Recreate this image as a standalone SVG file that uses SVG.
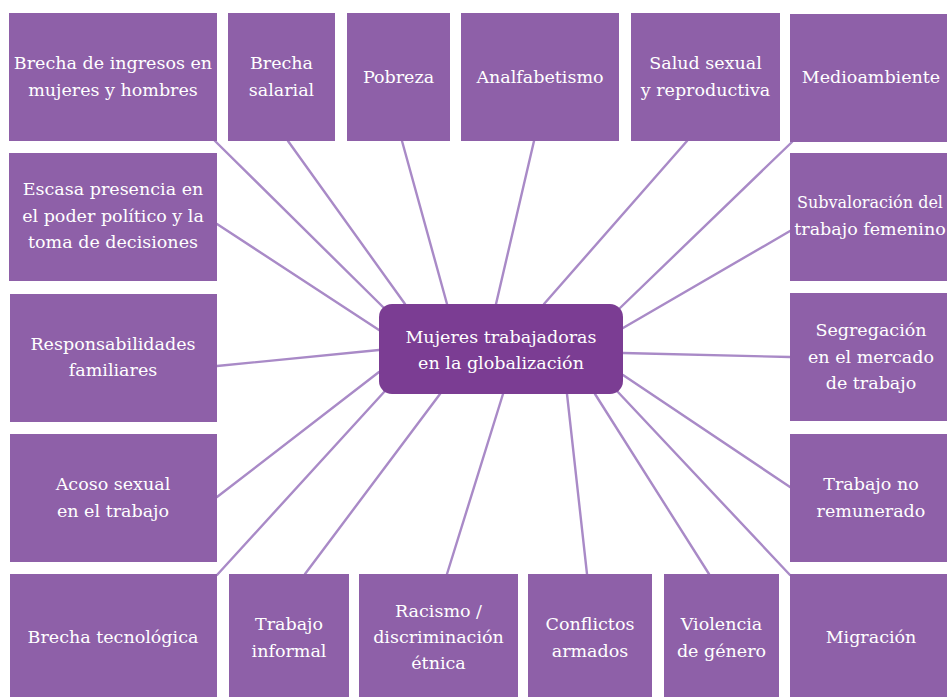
<svg xmlns="http://www.w3.org/2000/svg" width="947" height="697" viewBox="0 0 947 697">
<style>
.n{fill:#8E60A8}
.c{fill:#7B3D93}
.t{font-family:'DejaVu Serif','Liberation Serif',serif;font-size:17.5px;fill:#ffffff;text-anchor:middle}
#connectors line{stroke:#A98AC7;stroke-width:2.4;stroke-linecap:round}
</style>
<rect width="947" height="697" fill="#ffffff"/>
<g id="connectors">
<line x1="215" y1="141" x2="384" y2="308"/>
<line x1="288" y1="141" x2="405" y2="304"/>
<line x1="402" y1="141" x2="447" y2="304"/>
<line x1="534" y1="141" x2="496" y2="304"/>
<line x1="687" y1="141" x2="544" y2="304"/>
<line x1="792" y1="142" x2="620" y2="308"/>
<line x1="790" y1="231" x2="623" y2="328"/>
<line x1="790" y1="357" x2="623" y2="353"/>
<line x1="790" y1="487" x2="623" y2="375"/>
<line x1="790" y1="575" x2="617" y2="391"/>
<line x1="709" y1="574" x2="595" y2="394"/>
<line x1="587" y1="574" x2="567" y2="394"/>
<line x1="447" y1="574" x2="503" y2="394"/>
<line x1="305" y1="574" x2="440" y2="394"/>
<line x1="217" y1="575" x2="385" y2="391"/>
<line x1="217" y1="497" x2="379" y2="372"/>
<line x1="217" y1="366" x2="379" y2="350"/>
<line x1="217" y1="224" x2="379" y2="330"/>
</g>
<g id="n1"><rect class="n" x="9" y="13" width="208" height="128"/><text class="t"><tspan x="113" y="69">Brecha de ingresos en</tspan><tspan x="113" y="96">mujeres y hombres</tspan></text></g>
<g id="n2"><rect class="n" x="228" y="13" width="107" height="128"/><text class="t"><tspan x="281.5" y="69">Brecha</tspan><tspan x="281.5" y="96">salarial</tspan></text></g>
<g id="n3"><rect class="n" x="347" y="13" width="103" height="128"/><text class="t" x="398.5" y="83">Pobreza</text></g>
<g id="n4"><rect class="n" x="461" y="13" width="158" height="128"/><text class="t" x="540" y="83">Analfabetismo</text></g>
<g id="n5"><rect class="n" x="631" y="13" width="149" height="128"/><text class="t"><tspan x="705.5" y="69">Salud sexual</tspan><tspan x="705.5" y="96">y reproductiva</tspan></text></g>
<g id="n6"><rect class="n" x="790" y="14" width="170" height="128"/><text class="t" x="871" y="83">Medioambiente</text></g>
<g id="n7"><rect class="n" x="9" y="153" width="208" height="128"/><text class="t"><tspan x="113" y="195">Escasa presencia en</tspan><tspan x="113" y="222">el poder político y la</tspan><tspan x="113" y="248">toma de decisiones</tspan></text></g>
<g id="n8"><rect class="n" x="790" y="153" width="170" height="128"/><text class="t"><tspan x="870" y="208" font-size="16">Subvaloración del</tspan><tspan x="870" y="235">trabajo femenino</tspan></text></g>
<g id="n9"><rect class="n" x="10" y="294" width="207" height="128"/><text class="t"><tspan x="113" y="350">Responsabilidades</tspan><tspan x="113" y="376">familiares</tspan></text></g>
<g id="n10"><rect class="n" x="790" y="293" width="170" height="128"/><text class="t"><tspan x="871" y="336">Segregación</tspan><tspan x="871" y="363">en el mercado</tspan><tspan x="871" y="389">de trabajo</tspan></text></g>
<g id="n11"><rect class="n" x="10" y="434" width="207" height="128"/><text class="t"><tspan x="113" y="490">Acoso sexual</tspan><tspan x="113" y="517">en el trabajo</tspan></text></g>
<g id="n12"><rect class="n" x="790" y="434" width="170" height="128"/><text class="t"><tspan x="871" y="490">Trabajo no</tspan><tspan x="871" y="517">remunerado</tspan></text></g>
<g id="n13"><rect class="n" x="10" y="574" width="207" height="130"/><text class="t" x="113" y="643">Brecha tecnológica</text></g>
<g id="n14"><rect class="n" x="229" y="574" width="120" height="130"/><text class="t"><tspan x="289" y="630">Trabajo</tspan><tspan x="289" y="657">informal</tspan></text></g>
<g id="n15"><rect class="n" x="359" y="574" width="159" height="130"/><text class="t"><tspan x="438.5" y="617">Racismo /</tspan><tspan x="438.5" y="643">discriminación</tspan><tspan x="438.5" y="669">étnica</tspan></text></g>
<g id="n16"><rect class="n" x="528" y="574" width="124" height="130"/><text class="t"><tspan x="590" y="630">Conflictos</tspan><tspan x="590" y="657">armados</tspan></text></g>
<g id="n17"><rect class="n" x="664" y="574" width="115" height="130"/><text class="t"><tspan x="721.5" y="630">Violencia</tspan><tspan x="721.5" y="657">de género</tspan></text></g>
<g id="n18"><rect class="n" x="790" y="574" width="170" height="130"/><text class="t" x="871" y="643">Migración</text></g>
<g id="center"><rect class="c" x="379" y="304" width="244" height="90" rx="13"/><text class="t"><tspan x="501" y="343">Mujeres trabajadoras</tspan><tspan x="501" y="369">en la globalización</tspan></text></g>
</svg>
